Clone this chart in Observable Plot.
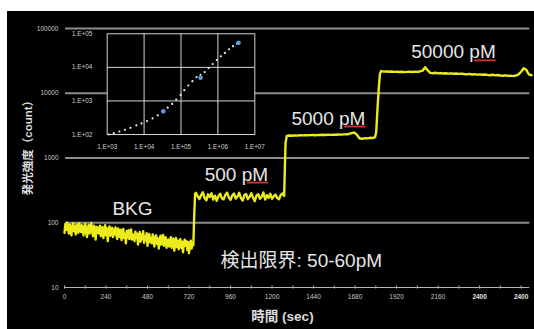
<!DOCTYPE html>
<html>
<head>
<meta charset="utf-8">
<script src="https://cdn.jsdelivr.net/npm/d3@7"></script>
<script src="https://cdn.jsdelivr.net/npm/@observablehq/plot@0.6"></script>
<style>
  html, body { margin: 0; padding: 0; background: #fff; }
  #wrap { position: relative; width: 534px; height: 329px; overflow: hidden; background: #fff; }
  #main { position: absolute; left: 7px; top: 11px; }
  #inset { position: absolute; left: 60px; top: 24px; }
</style>
</head>
<body>
<div id="wrap"><div id="main"></div><div id="inset"></div></div>
<script>
// ---------- main chart data ----------
const bkgSpan = [0, 745];
const bkgValues = [
  70, 96, 78, 100, 84, 68, 94, 80, 64, 90, 99, 74, 88, 66, 95, 82, 70, 98, 85, 72,
  92, 75, 64, 88, 97, 70, 60, 85, 93, 68, 80, 99, 72, 62, 90, 78, 55, 87, 70, 84,
  68, 90, 62, 80, 86, 58, 74, 92, 64, 82, 52, 76, 88, 63, 72, 84, 60, 79, 66, 85,
  64, 56, 82, 70, 60, 78, 54, 69, 80, 58, 67, 48, 75, 59, 77, 56, 68, 79, 55, 66,
  60, 52, 73, 58, 68, 46, 62, 72, 51, 66, 56, 74, 49, 61, 54, 69, 44, 60, 67, 50,
  58, 48, 66, 55, 43, 60, 64, 47, 57, 40, 54, 63, 46, 56, 65, 44, 53, 60, 41, 52,
  55, 43, 52, 60, 41, 50, 57, 37, 49, 58, 42, 53, 39, 48, 56, 41, 51, 35, 47, 55,
  44, 52, 38, 50, 34, 47, 53, 40, 49, 45
];
const rise1Times = [750, 755];
const rise1Values = [130, 280];
const pm500Span = [760, 1270];
const pm500Values = [
  290, 255, 232, 268, 296, 240, 222, 275, 250, 285, 228, 262, 218, 258, 280, 238,
  230, 270, 292, 245, 226, 265, 282, 236, 255, 290, 240, 220, 268, 278, 232, 250,
  286, 244, 216, 262, 276, 234, 252, 294, 228, 266, 242, 280, 235, 258, 272, 240,
  230, 268, 284, 260
];
const rise2Times = [1274, 1278];
const rise2Values = [700, 1700];
const pm5000Span = [1285, 1795];
const pm5000Values = [
  2200, 2230, 2210, 2240, 2220, 2250, 2235, 2260, 2240, 2255, 2270, 2250, 2280, 2265,
  2290, 2270, 2295, 2280, 2300, 2285, 2310, 2295, 2320, 2330, 2350, 2420, 2470, 2300,
  2020, 1980, 2030, 2010, 2050, 2040, 2080
];
const rise3Times = [1802, 1810, 1818, 1824];
const rise3Values = [2500, 6000, 13000, 20000];
const pm50000Span = [1830, 2700];
const pm50000Values = [
  22000, 21600, 21800, 21500, 21700, 21400, 21600, 21300, 21500, 21200, 21400, 21500,
  21300, 21600, 21400, 21700, 22300, 25200, 22500, 20600, 20400, 20700, 20300, 20500,
  20200, 20400, 20100, 20300, 20000, 20200, 19900, 20100, 19800, 19600, 19900, 19500,
  19700, 19400, 19600, 19300, 19500, 19200, 19000, 19300, 18900, 19100, 18800, 18600,
  18900, 18500, 18700, 18400, 18800, 19600, 21500, 24300, 23000, 19500, 19000
];

const gridValues = [100, 1000, 10000, 100000];
const baseValue = 10;
const yTickValues = [10, 100, 1000, 10000, 100000];
const yTickLabels = ["10", "100", "1000", "10000", "100000"];
const xTickValues = [0, 240, 480, 720, 960, 1200, 1440, 1680, 1920, 2160, 2400, 2640];
const xTickLabels = ["0", "240", "480", "720", "960", "1200", "1440", "1680", "1920", "2160", "2400", "2400"];
const xMinorTicks = [0, 120, 240, 360, 480, 600, 720, 840, 960, 1080, 1200, 1320, 1440, 1560, 1680, 1800, 1920, 2040, 2160, 2280, 2400, 2520, 2640];

const annotations = [
  {label: "BKG", t: 393, v: 166},
  {label: "500 pM", t: 994, v: 556},
  {label: "5000 pM", t: 1526, v: 4080},
  {label: "50000 pM", t: 2249, v: 42800}
];
const limitLabel = {label: "検出限界: 50-60pM", t: 902, v: 26};
const yTitle = "発光強度（count）";
const xTitle = "時間 (sec)";

// ---------- inset data ----------
const insetFitX = [1110, 1510, 2140, 3020, 4270, 6170, 8510, 12000, 17000, 23400, 33100, 43600,
  57500, 74100, 97700, 123000, 158000, 204000, 263000, 339000, 437000, 562000, 724000,
  933000, 1200000, 1550000, 2000000, 2570000, 3300000];
const insetFitY = [100, 110, 123, 138, 158, 186, 214, 251, 302, 372, 490, 631,
  813, 1100, 1510, 2090, 2880, 3890, 5130, 6030, 7240, 9550, 12600,
  16600, 21400, 26900, 34700, 42700, 51000];
const insetPointX = [33100, 339000, 3630000];
const insetPointY = [490, 4900, 53700];
const insetXTicks = [1e3, 1e4, 1e5, 1e6, 1e7];
const insetXLabels = ["1.E+03", "1.E+04", "1.E+05", "1.E+06", "1.E+07"];
const insetYTicks = [1e2, 1e3, 1e4, 1e5];
const insetYLabels = ["1.E+02", "1.E+03", "1.E+04", "1.E+05"];

// ---------- build series ----------
function spread(span, values) {
  const n = values.length;
  return values.map((v, i) => ({t: span[0] + (span[1] - span[0]) * i / (n - 1), v}));
}
function pairs(ts, vs) { return ts.map((t, i) => ({t, v: vs[i]})); }
const series = [
  ...spread(bkgSpan, bkgValues),
  ...pairs(rise1Times, rise1Values),
  ...spread(pm500Span, pm500Values),
  ...pairs(rise2Times, rise2Values),
  ...spread(pm5000Span, pm5000Values),
  ...pairs(rise3Times, rise3Values),
  ...spread(pm50000Span, pm50000Values)
];
const yTicks = yTickValues.map((v, i) => ({v, label: yTickLabels[i]}));
const xTicksNormal = xTickValues.map((t, i) => ({t, label: xTickLabels[i]})).slice(0, 10);
const xTicksBold = xTickValues.map((t, i) => ({t, label: xTickLabels[i]})).slice(10);
const inXT = insetXTicks.map((x, i) => ({x, label: insetXLabels[i]}));
const inYT = insetYTicks.map((y, i) => ({y, label: insetYLabels[i]}));

const font = "'Liberation Sans', Arial, Helvetica, 'Noto Sans CJK JP', sans-serif";
const textColor = "#e6e6e6";

const main = Plot.plot({
  width: 527,
  height: 318,
  marginLeft: 57,
  marginRight: 3,
  marginTop: 17,
  marginBottom: 42,
  style: {background: "black", color: "#cfcfcf", fontFamily: font},
  x: {domain: [0, 2700], axis: null},
  y: {type: "log", domain: [10, 100000], axis: null},
  marks: [
    Plot.ruleY(gridValues, {x1: 6, x2: 2690, stroke: "#8d8d8d", strokeWidth: 2}),
    Plot.ruleY([baseValue], {x1: 0, x2: 2690, stroke: "#b5b5b5", strokeWidth: 1}),
    Plot.ruleX(xMinorTicks, {y1: 9.45, y2: 10.55, stroke: "#b5b5b5", strokeWidth: 1}),
    Plot.text(yTicks, {x: () => 0, y: "v", text: "label", dx: -6, textAnchor: "end", fontSize: 6.5, fill: "#c8c8c8"}),
    Plot.text(xTicksNormal, {x: "t", y: () => baseValue, dy: 9, text: "label", fontSize: 6.5, fill: "#c8c8c8"}),
    Plot.text(xTicksBold, {x: "t", y: () => baseValue, dy: 9, text: "label", fontSize: 6.5, fontWeight: "bold", fill: "#e0e0e0"}),
    Plot.line(series, {x: "t", y: "v", stroke: "#ecec1c", strokeWidth: 2.4, strokeLinejoin: "round"}),
    Plot.text(annotations, {x: "t", y: "v", text: "label", fontSize: 19, fill: textColor}),
    Plot.text([limitLabel], {x: "t", y: "v", text: "label", fontSize: 19, fill: textColor, textAnchor: "start"}),
    Plot.text([yTitle], {frameAnchor: "left", textAnchor: "middle", dx: -36, dy: -13, rotate: -90, fontSize: 11.5, fontWeight: "bold", fill: "#dcdcdc"}),
    Plot.text([xTitle], {frameAnchor: "bottom", dx: -15.5, dy: 33, fontSize: 13.5, fontWeight: "bold", fill: "#dcdcdc"})
  ]
});
document.getElementById("main").appendChild(main);

// red spell-check underline under "pM"
d3.select(main).selectAll("text").each(function () {
  const s = this.textContent;
  const m = / pM$/.exec(s);
  if (m && this.childNodes.length === 1) {
    const before = s.slice(0, m.index + 1);
    this.textContent = "";
    d3.select(this).append("tspan").text(before);
    d3.select(this).append("tspan")
      .attr("fill", "#d03030")
      .style("text-decoration", "underline")
      .append("tspan").attr("fill", textColor).text("pM");
  }
});

const inset = Plot.plot({
  width: 212,
  height: 130,
  marginLeft: 46.7,
  marginRight: 17.7,
  marginTop: 9.3,
  marginBottom: 20,
  style: {background: "transparent", color: "#cfcfcf", fontFamily: font},
  x: {type: "log", domain: [1e3, 1e7], axis: null},
  y: {type: "log", domain: [1e2, 1e5], axis: null},
  marks: [
    Plot.frame({fill: "black"}),
    Plot.ruleX(insetXTicks.slice(1, 4), {stroke: "#d4d4d4", strokeWidth: 1}),
    Plot.ruleY(insetYTicks.slice(1, 3), {stroke: "#d4d4d4", strokeWidth: 1}),
    Plot.frame({stroke: "#d4d4d4", strokeWidth: 1}),
    Plot.text(inXT, {x: "x", y: () => 1e2, dy: 12, text: "label", fontSize: 6.3, fill: "#d0d0d0"}),
    Plot.text(inYT, {x: () => 1e3, y: "y", dx: -15, textAnchor: "end", text: "label", fontSize: 6.3, fill: "#d0d0d0"}),
    Plot.dot(insetFitX.map((x, i) => ({x, y: insetFitY[i]})), {x: "x", y: "y", r: 1.1, fill: "#ececec", stroke: "none"}),
    Plot.dot(insetPointX.map((x, i) => ({x, y: insetPointY[i]})), {x: "x", y: "y", r: 2.3, fill: "#5a9be0", stroke: "none"})
  ]
});
document.getElementById("inset").appendChild(inset);
</script>
</body>
</html>
